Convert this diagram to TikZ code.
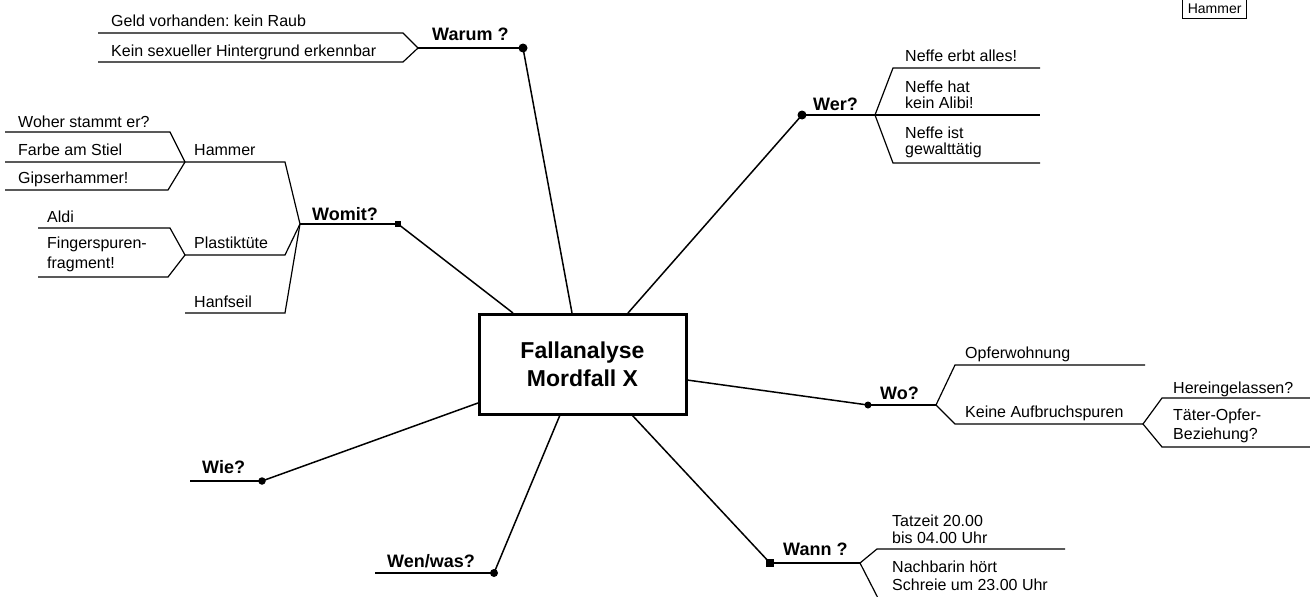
\documentclass[tikz,border=0pt]{standalone}
\usepackage{fontspec}
\setmainfont{Liberation Sans}
\frenchspacing
\begin{document}
\begin{tikzpicture}[x=1pt,y=-1pt,
  ln/.style={line width=1.2pt, line join=miter},
  conn/.style={line width=1.5pt},
  txt/.style={anchor=base west, inner sep=0pt, font=\fontsize{16}{18}\selectfont},
  lbl/.style={anchor=base west, inner sep=0pt, font=\bfseries\fontsize{18}{20}\selectfont},
  dotc/.style={circle, fill, inner sep=0pt, minimum size=#1},
  dots/.style={rectangle, fill, inner sep=0pt, minimum size=#1}]
\useasboundingbox (0,0) rectangle (1310,597);
\clip (0,0) rectangle (1310,597);

% central box
\node[draw, line width=3pt, minimum width=207pt, minimum height=100pt, align=center,
      font=\bfseries\fontsize{23}{28}\selectfont] (main) at (582.5,364) {Fallanalyse\\Mordfall X};
\coordinate (bWarum) at (572,313);
\coordinate (bWomit) at (513,313);
\coordinate (bWer) at (628,313);
\coordinate (bWo) at (687,380);
\coordinate (bWie) at (478,403);
\coordinate (bWen) at (560,415);
\coordinate (bWann) at (632,415);

% ---------- Warum ----------
\node[dotc=9pt] (warumdot) at (523,48) {};
\coordinate (warumJ) at (418,48);
\coordinate (warumU) at (403,33);
\coordinate (warumL) at (403,62);
\coordinate (warumUe) at (98,33);
\coordinate (warumLe) at (98,62);
\draw[conn] (warumdot.center) -- (bWarum);
\draw[ln] (warumdot.center) -- (warumJ);
\draw[ln] (warumUe) -- (warumU) -- (warumJ) -- (warumL) -- (warumLe);
\node[lbl] (tWarum) at (432,40) {Warum ?};
\node[txt] (tGeld) at (111,27) {Geld vorhanden: kein Raub};
\node[txt] (tSex) at (111,56) {Kein sexueller Hintergrund erkennbar};

% ---------- Womit ----------
\node[dots=5.5pt] (womitdot) at (398,224) {};
\coordinate (womitJ) at (300,224);
\coordinate (hamE) at (285,162);
\coordinate (plaE) at (285,255);
\coordinate (hanE) at (285,313);
\coordinate (hamJ) at (185,162);
\coordinate (plaJ) at (185,255);
\coordinate (hanS) at (185,313);
\coordinate (hamU) at (170,132);
\coordinate (hamUe) at (5,132);
\coordinate (hamMe) at (5,162);
\coordinate (hamL) at (168,190);
\coordinate (hamLe) at (5,190);
\coordinate (plaU) at (170,228);
\coordinate (plaUe) at (38,228);
\coordinate (plaL) at (168,277);
\coordinate (plaLe) at (38,277);
\draw[conn] (womitdot.center) -- (bWomit);
\draw[ln] (womitdot.center) -- (womitJ);
\draw[ln] (hamMe) -- (hamE) -- (womitJ);
\draw[ln] (plaJ) -- (plaE) -- (womitJ);
\draw[ln] (hanS) -- (hanE) -- (womitJ);
\draw[ln] (hamUe) -- (hamU) -- (hamJ) -- (hamL) -- (hamLe);
\draw[ln] (plaUe) -- (plaU) -- (plaJ) -- (plaL) -- (plaLe);
\node[lbl] (tWomit) at (312,220) {Womit?};
\node[txt] (tHammer) at (194,155) {Hammer};
\node[txt] (tPlastik) at (194,248) {Plastiktüte};
\node[txt] (tHanf) at (194,307) {Hanfseil};
\node[txt] (tWoher) at (18,127) {Woher stammt er?};
\node[txt] (tFarbe) at (18,155) {Farbe am Stiel};
\node[txt] (tGips) at (18,183) {Gipserhammer!};
\node[txt] (tAldi) at (47,222) {Aldi};
\node[txt] (tFinger) at (47,248) {Fingerspuren-};
\node[txt] (tFrag) at (47,268) {fragment!};

% ---------- Wer ----------
\node[dotc=9pt] (werdot) at (802,115) {};
\coordinate (werJ) at (875,115);
\coordinate (werU) at (893,68);
\coordinate (werUe) at (1040,68);
\coordinate (werMe) at (1040,115);
\coordinate (werL) at (893,163);
\coordinate (werLe) at (1040,163);
\draw[conn] (werdot.center) -- (bWer);
\draw[ln] (werdot.center) -- (werJ) -- (werMe);
\draw[ln] (werUe) -- (werU) -- (werJ) -- (werL) -- (werLe);
\node[lbl] (tWer) at (813,110) {Wer?};
\node[txt] (tErbt) at (905,61) {Neffe erbt alles!};
\node[txt] (tHat) at (905,92) {Neffe hat};
\node[txt] (tAlibi) at (905,108) {kein Alibi!};
\node[txt] (tIst) at (905,138) {Neffe ist};
\node[txt] (tGewalt) at (905,154) {gewalttätig};

% ---------- Wo ----------
\node[dotc=7pt] (wodot) at (868,405) {};
\coordinate (woJ) at (936,405);
\coordinate (woU) at (955,365);
\coordinate (woUe) at (1145,365);
\coordinate (woL) at (955,424);
\coordinate (keinJ) at (1143,424);
\coordinate (keinU) at (1162,398);
\coordinate (keinUe) at (1310,398);
\coordinate (keinL) at (1162,447);
\coordinate (keinLe) at (1310,447);
\draw[conn] (bWo) -- (wodot.center);
\draw[ln] (wodot.center) -- (woJ);
\draw[ln] (woUe) -- (woU) -- (woJ) -- (woL) -- (keinJ);
\draw[ln] (keinUe) -- (keinU) -- (keinJ) -- (keinL) -- (keinLe);
\node[lbl] (tWo) at (880,399) {Wo?};
\node[txt] (tOpfer) at (965,358) {Opferwohnung};
\node[txt] (tKeine) at (965,417) {Keine Aufbruchspuren};
\node[txt] (tHerein) at (1173,393) {Hereingelassen?};
\node[txt] (tTater) at (1173,420) {Täter-Opfer-};
\node[txt] (tBez) at (1173,439) {Beziehung?};

% ---------- Wann ----------
\node[dots=7.5pt] (wanndot) at (770,563) {};
\coordinate (wannJ) at (860,563);
\coordinate (wannU) at (877,549);
\coordinate (wannUe) at (1065,549);
\coordinate (wannL) at (880,602);
\draw[conn] (bWann) -- (wanndot.center);
\draw[ln] (wanndot.center) -- (wannJ);
\draw[ln] (wannUe) -- (wannU) -- (wannJ) -- (wannL);
\node[lbl] (tWann) at (783,555) {Wann ?};
\node[txt] (tTatzeit) at (892,526) {Tatzeit 20.00};
\node[txt] (tBis) at (892,543) {bis 04.00 Uhr};
\node[txt] (tNach) at (892,572) {Nachbarin hört};
\node[txt] (tSchrei) at (892,590) {Schreie um 23.00 Uhr};

% ---------- Wie ----------
\node[dotc=7.5pt] (wiedot) at (262,481) {};
\coordinate (wieE) at (190,481);
\draw[conn] (bWie) -- (wiedot.center);
\draw[ln] (wieE) -- (wiedot.center);
\node[lbl] (tWie) at (202,473) {Wie?};

% ---------- Wen/was ----------
\node[dotc=8pt] (wendot) at (494,573) {};
\coordinate (wenE) at (375,573);
\draw[conn] (bWen) -- (wendot.center);
\draw[ln] (wenE) -- (wendot.center);
\node[lbl] (tWen) at (387,567) {Wen/was?};

% ---------- Hammer box top right ----------
\node[draw, line width=1pt, anchor=south east, inner xsep=5pt, inner ysep=5pt,
      text height=10pt, text depth=0pt, font=\fontsize{14}{16}\selectfont] (hbox) at (1247,19) {Hammer};
\end{tikzpicture}
\end{document}
